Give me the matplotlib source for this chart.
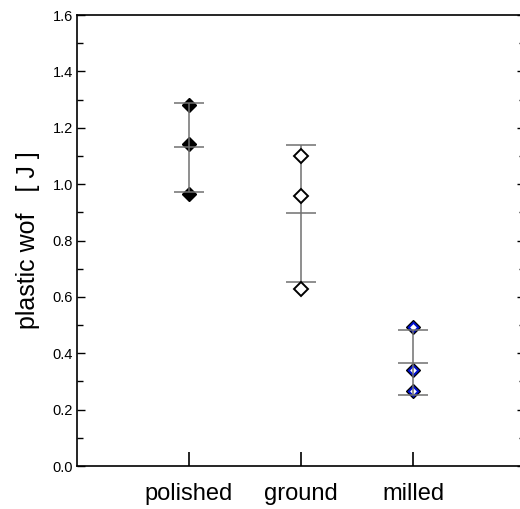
import numpy as np
import matplotlib.pyplot as plt
from matplotlib.ticker import MultipleLocator

plt.rcParams['font.family'] = ['Liberation Sans', 'DejaVu Sans']

# plastic work of fracture, three specimens per surface finish
groups = ['polished', 'ground', 'milled']
polished = [1.281, 1.144, 0.966]
ground = [1.101, 0.959, 0.629]
milled = [0.493, 0.340, 0.267]
samples = [polished, ground, milled]

fig = plt.figure(figsize=(5.2, 5.09), dpi=100)
ax = fig.add_axes([77 / 520, 43 / 509, 448 / 520, 451 / 509])

bar_color = '#707070'
cap = 21.6  # cap length in points

for i, vals in enumerate(samples):
    x = i + 1
    vals = np.array(vals)
    mean = vals.mean()
    sd = vals.std(ddof=1)

    # specimen values
    xs = np.full(len(vals), x)
    if i == 0:
        ax.plot(xs, vals, 'D', ms=7.2, mfc='black', mec='black', mew=1, zorder=2)
    elif i == 1:
        ax.plot(xs, vals, 'D', ms=7.2, mfc='white', mec='black', mew=1.4, zorder=4)
    else:
        ax.plot(xs, vals, 'D', ms=7.4, mfc='#0010d0', mec='black', mew=0.9, zorder=2)
        ax.plot(xs, vals, 'D', ms=3.4, mfc='white', mec='white', mew=0, zorder=2.5)

    # mean +/- standard deviation
    ax.errorbar(x, mean, yerr=sd, fmt='_', ms=cap, mew=1.1, color=bar_color,
                ecolor=bar_color, elinewidth=1.1, capsize=cap / 2, capthick=1.1,
                zorder=3)

ax.set_xlim(0, 4)
ax.set_ylim(0, 1.6)
ax.set_xticks([1, 2, 3])
ax.set_xticklabels(groups, fontsize=17)
ax.yaxis.set_major_locator(MultipleLocator(0.2))
ax.yaxis.set_minor_locator(MultipleLocator(0.1))
ax.yaxis.set_major_formatter(plt.FormatStrFormatter('%.1f'))

ax.tick_params(axis='x', direction='in', length=10, width=1.2, pad=12, top=False)
ax.tick_params(axis='y', which='major', direction='in', length=6, width=1.0,
               labelsize=10.5, pad=3, right=True)
ax.tick_params(axis='y', which='minor', direction='in', length=4, width=1.0, right=True)

for side in ['left', 'bottom', 'top', 'right']:
    ax.spines[side].set_linewidth(1.2)

ax.set_ylabel('plastic wof   [ J ]', fontsize=18, labelpad=9)

fig.savefig('out.png', dpi=100)
